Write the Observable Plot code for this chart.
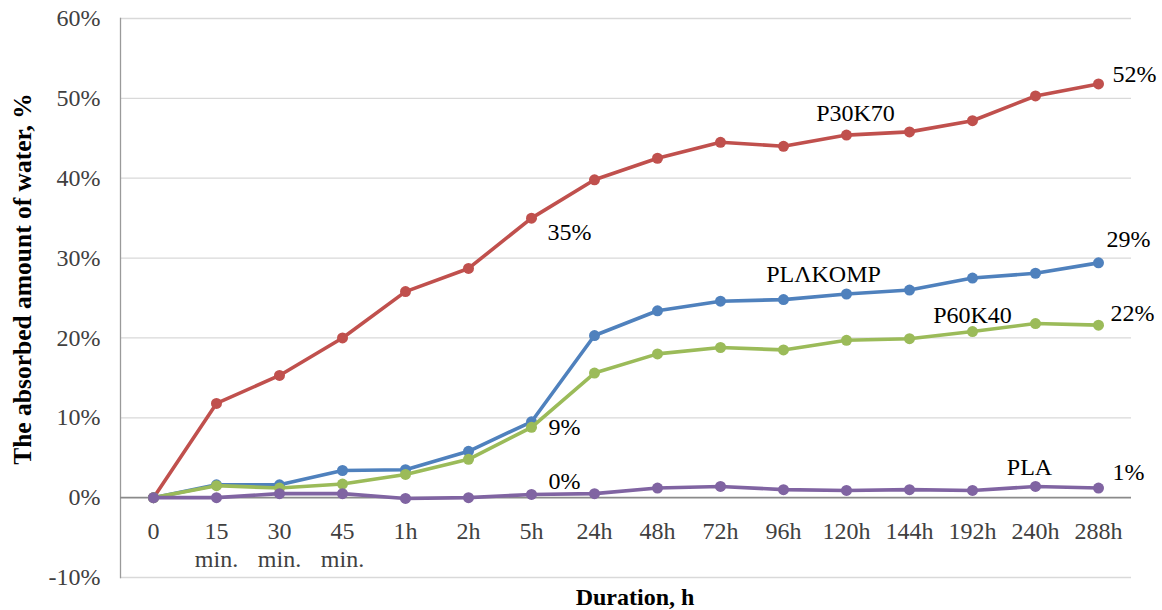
<!DOCTYPE html>
<html>
<head>
<meta charset="utf-8">
<script src="https://cdn.jsdelivr.net/npm/d3@7"></script>
<script src="https://cdn.jsdelivr.net/npm/@observablehq/plot@0.6"></script>
<style>
  html, body { margin: 0; padding: 0; background: #fff; }
  #chart svg { display: block; font-family: "Liberation Serif", "Times New Roman", serif; }
</style>
</head>
<body>
<div id="chart"></div>
<script>
const categories = ["0", "15 min.", "30 min.", "45 min.", "1h", "2h", "5h", "24h", "48h", "72h", "96h", "120h", "144h", "192h", "240h", "288h"];
const tickLabels = ["0", "15\nmin.", "30\nmin.", "45\nmin.", "1h", "2h", "5h", "24h", "48h", "72h", "96h", "120h", "144h", "192h", "240h", "288h"];
const yTicks = [-10, 0, 10, 20, 30, 40, 50, 60];

const P30K70  = [0, 11.8, 15.3, 20.0, 25.8, 28.7, 35.0, 39.8, 42.5, 44.5, 44.0, 45.4, 45.8, 47.2, 50.3, 51.8];
const PLAKOMP = [0, 1.6, 1.6, 3.4, 3.5, 5.8, 9.5, 20.3, 23.4, 24.6, 24.8, 25.5, 26.0, 27.5, 28.1, 29.4];
const P60K40  = [0, 1.5, 1.2, 1.7, 2.9, 4.8, 8.8, 15.6, 18.0, 18.8, 18.5, 19.7, 19.9, 20.8, 21.8, 21.6];
const PLA     = [0, 0.0, 0.5, 0.5, -0.1, 0.0, 0.4, 0.5, 1.2, 1.4, 1.0, 0.9, 1.0, 0.9, 1.4, 1.2];

const seriesNames = ["P30K70", "PLΛKOMP", "P60K40", "PLA"];
const seriesValues = [P30K70, PLAKOMP, P60K40, PLA];
const colors = ["#C0504D", "#4F81BD", "#9BBB59", "#8064A2"];

const yTitle = "The absorbed amount of water, %";
const xTitle = "Duration, h";

const rows = seriesNames.flatMap((s, si) => categories.map((c, i) => ({series: s, cat: c, value: seriesValues[si][i]})));
const pt = (si, i, text) => [{cat: categories[i], value: seriesValues[si][i], text}];

const font = "Liberation Serif";
const lineMarks = seriesNames.flatMap((s, si) => {
  const d = rows.filter(r => r.series === s);
  return [
    Plot.line(d, {x: "cat", y: "value", stroke: colors[si], strokeWidth: 3.6}),
    Plot.dot(d, {x: "cat", y: "value", fill: colors[si], r: 5.5})
  ];
});

const ann = (si, i, text, dx, dy, anchor = "start") =>
  Plot.text(pt(si, i, text), {x: "cat", y: "value", text: "text", dx, dy, textAnchor: anchor, fontSize: 24, fontFamily: font, fill: "#000"});

const chart = Plot.plot({
  width: 1162,
  height: 610,
  marginLeft: 120,
  marginRight: 31,
  marginTop: 18,
  marginBottom: 33,
  style: {fontFamily: "'Liberation Serif', serif", background: "#fff", overflow: "visible"},
  x: {type: "point", domain: categories, padding: 0.5, axis: null},
  y: {domain: [-10, 60], axis: null},
  marks: [
    Plot.ruleY(yTicks.filter(d => d !== 0), {stroke: "#d9d9d9", strokeWidth: 1.3}),
    Plot.frame({anchor: "left", stroke: "#9a9a9a", strokeWidth: 1.3}),
    Plot.ruleY([0], {stroke: "#8a8a8a", strokeWidth: 1.6}),
    Plot.axisY(yTicks, {tickSize: 0, tickPadding: 20, fontSize: 24, fontFamily: font, fill: "#404040", tickFormat: d => d + "%", label: null}),
    Plot.text(categories, {x: d => d, y: () => 0, text: (d, i) => tickLabels[i], dy: 21, lineAnchor: "top", lineHeight: 1.17, fontSize: 24, fontFamily: font, fill: "#404040"}),
    ...lineMarks,
    ann(0, 6, "35%", 16, 14),
    ann(2, 6, "9%", 17, 0),
    ann(3, 6, "0%", 17, -13),
    ann(0, 15, "52%", 14, -10),
    ann(1, 15, "29%", 8, -24),
    ann(2, 15, "22%", 12, -12),
    ann(3, 15, "1%", 14, -16),
    ann(0, 11, "P30K70", 9, -22, "middle"),
    ann(1, 10, "PLΛKOMP", 40, -25, "middle"),
    ann(2, 13, "P60K40", 0, -16, "middle"),
    ann(3, 14, "PLA", -6, -19, "middle"),
    Plot.text([yTitle], {frameAnchor: "left", textAnchor: "middle", lineAnchor: "middle", dx: -98, dy: -19, rotate: -90, fontSize: 25.5, fontWeight: "bold", fontFamily: font, fill: "#000"}),
    Plot.text([xTitle], {frameAnchor: "bottom", textAnchor: "middle", lineAnchor: "middle", dx: 9, dy: 20, fontSize: 24, fontWeight: "bold", fontFamily: font, fill: "#000"})
  ]
});
document.getElementById("chart").appendChild(chart);
</script>
</body>
</html>
